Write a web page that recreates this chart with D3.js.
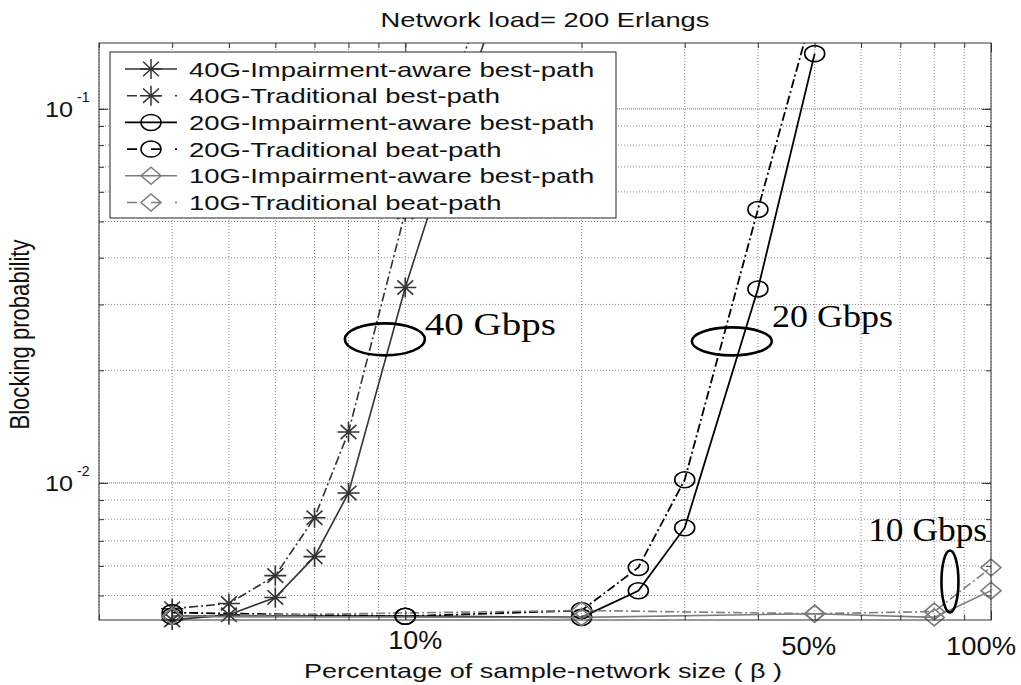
<!DOCTYPE html>
<html>
<head>
<meta charset="utf-8">
<script src="https://cdn.jsdelivr.net/npm/d3@7"></script>
<style>
  body { margin: 0; background: #fff; }
  svg { display: block; }
</style>
</head>
<body>
<svg width="1021" height="685"></svg>
<script>
// values (x in %, y = blocking probability)
const xPct40 = [4, 5, 6, 7, 8, 10, 20]
const g40Aware = [0.0043, 0.00444, 0.00494, 0.00635, 0.0094, 0.0333, 0.98]
const g40Trad = [0.00461, 0.00476, 0.00565, 0.00807, 0.01368, 0.053, 0.98]

const xPct20 = [4, 10, 20, 25, 30, 40, 50]
const g20Aware = [0.0044, 0.0044, 0.00437, 0.00515, 0.00759, 0.033, 0.1405]
const g20Trad = [0.0045, 0.0044, 0.00456, 0.00594, 0.0102, 0.0538, 0.19]

const xPct10 = [4, 20, 50, 80, 100]
const g10Aware = [0.0044, 0.00437, 0.00447, 0.00437, 0.00515]
const g10Trad = [0.0044, 0.00456, 0.00447, 0.00453, 0.00594]

const legendNames = [
  '40G-Impairment-aware best-path',
  '40G-Traditional best-path',
  '20G-Impairment-aware best-path',
  '20G-Traditional beat-path',
  '10G-Impairment-aware best-path',
  '10G-Traditional beat-path'
]
const xTickValues = [10, 50, 100]
const xTickLabels = ['10%', '50%', '100%']
const yTickValues = [0.01, 0.1]
const yTickExps = ['-2', '-1']

// annotations: [x %, y prob] anchors
const annoEllipses = [[9.23, 0.0242], [36.1, 0.0239], [85.1, 0.00545]]
const annoTexts = ['40 Gbps', '20 Gbps', '10 Gbps']
const annoTextPos = [[10.8, 0.0248], [42.3, 0.0261], [61.7, 0.0070]]

const svg = d3.select('svg')
const width = +svg.attr('width')
const height = +svg.attr('height')
const margin = {top: 43, right: 30, bottom: 65, left: 99}
const innerWidth = width - margin.left - margin.right
const innerHeight = height - margin.top - margin.bottom
const SANS = 'Liberation Sans, Arial, Helvetica, sans-serif'
const SERIF = 'Liberation Serif, Times New Roman, serif'

const x = d3.scaleLog().domain([3, 100]).range([0, innerWidth])
const y = d3.scaleLog().domain([0.0043, 0.15]).range([innerHeight, 0])

const g = svg.append('g')
  .attr('transform', `translate(${margin.left}, ${margin.top})`)

svg.append('defs').append('clipPath').attr('id', 'plotClip')
  .append('rect').attr('width', innerWidth).attr('height', innerHeight)

// grid
const xt = x.ticks()
const yt = y.ticks()
g.append('g').selectAll('line').data(xt).join('line')
  .attr('x1', d => x(d)).attr('x2', d => x(d))
  .attr('y1', 0).attr('y2', innerHeight)
  .attr('stroke', '#8a8a8a').attr('stroke-width', 1)
  .attr('stroke-dasharray', '1,2')
g.append('g').selectAll('line').data(yt).join('line')
  .attr('x1', 0).attr('x2', innerWidth)
  .attr('y1', d => y(d)).attr('y2', d => y(d))
  .attr('stroke', d => yTickValues.includes(d) ? '#777' : '#8a8a8a')
  .attr('stroke-width', 1)
  .attr('stroke-dasharray', d => yTickValues.includes(d) ? '1,1' : '1,2')

// series
const DASHDOT = '9,3,2,3'
const series = [
  {xs: xPct40, ys: g40Aware, color: '#333', dash: null, marker: 'star'},
  {xs: xPct40, ys: g40Trad, color: '#333', dash: DASHDOT, marker: 'star'},
  {xs: xPct20, ys: g20Aware, color: '#000', dash: null, marker: 'circle'},
  {xs: xPct20, ys: g20Trad, color: '#000', dash: DASHDOT, marker: 'circle'},
  {xs: xPct10, ys: g10Aware, color: '#7c7c7c', dash: null, marker: 'diamond'},
  {xs: xPct10, ys: g10Trad, color: '#7c7c7c', dash: DASHDOT, marker: 'diamond'}
]

function markerPath(type) {
  if (type === 'star') {
    const rx = 11, ry = 10, dx = rx * 0.72, dy = ry * 0.72
    return `M${-rx},0H${rx}M0,${-ry}V${ry}M${-dx},${-dy}L${dx},${dy}M${-dx},${dy}L${dx},${-dy}`
  }
  if (type === 'diamond') {
    const rx = 10, ry = 8.5
    return `M0,${-ry}L${rx},0L0,${ry}L${-rx},0Z`
  }
  const rx = 10, ry = 8
  return `M${-rx},0A${rx},${ry} 0 1,0 ${rx},0A${rx},${ry} 0 1,0 ${-rx},0Z`
}

const line = d3.line().x(d => x(d[0])).y(d => y(d[1]))
const linesG = g.append('g').attr('clip-path', 'url(#plotClip)')
const marksG = g.append('g')
series.forEach(s => {
  const pts = d3.zip(s.xs, s.ys)
  linesG.append('path').datum(pts)
    .attr('d', line)
    .attr('fill', 'none')
    .attr('stroke', s.color)
    .attr('stroke-width', s.color === '#000' ? 1.8 : 1.6)
    .attr('stroke-dasharray', s.dash)
  marksG.selectAll(null)
    .data(pts.filter(p => p[1] <= y.domain()[1] && p[1] >= y.domain()[0] * 0.98))
    .join('path')
    .attr('transform', d => `translate(${x(d[0])},${y(d[1])})`)
    .attr('d', markerPath(s.marker))
    .attr('fill', 'none')
    .attr('stroke', s.color)
    .attr('stroke-width', 1.6)
})

// frame and ticks (MATLAB-like inward ticks)
g.append('rect').attr('width', innerWidth).attr('height', innerHeight)
  .attr('fill', 'none').attr('stroke', '#333').attr('stroke-width', 1)

function tickAxis(axis, transform) {
  const a = g.append('g').attr('transform', transform).call(axis)
  a.select('.domain').remove()
  a.selectAll('line').attr('stroke', '#333')
  a.selectAll('text').remove()
}
tickAxis(d3.axisBottom(x).tickValues(xt).tickSize(-5), `translate(0,${innerHeight})`)
tickAxis(d3.axisTop(x).tickValues(xt).tickSize(-5), 'translate(0,0)')
tickAxis(d3.axisBottom(x).tickValues([10, 100]).tickSize(-9), `translate(0,${innerHeight})`)
tickAxis(d3.axisTop(x).tickValues([10, 100]).tickSize(-9), 'translate(0,0)')
tickAxis(d3.axisLeft(y).tickValues(yt).tickSize(-5), 'translate(0,0)')
tickAxis(d3.axisRight(y).tickValues(yt).tickSize(-5), `translate(${innerWidth},0)`)
tickAxis(d3.axisLeft(y).tickValues(yTickValues).tickSize(-9), 'translate(0,0)')
tickAxis(d3.axisRight(y).tickValues(yTickValues).tickSize(-9), `translate(${innerWidth},0)`)

// tick labels
const xNudge = [10, -6, -10]
const xLabelW = [54, 55, 70]
const xLabelDy = [29, 35, 35]
xTickValues.forEach((v, i) => {
  g.append('text')
    .attr('x', x(v) + xNudge[i]).attr('y', innerHeight + xLabelDy[i])
    .attr('text-anchor', 'middle')
    .attr('font-family', SANS).attr('font-size', 25)
    .attr('textLength', xLabelW[i]).attr('lengthAdjust', 'spacingAndGlyphs')
    .attr('fill', '#111')
    .text(xTickLabels[i])
})
yTickValues.forEach((v, i) => {
  g.append('text')
    .attr('x', -26).attr('y', y(v) + 8)
    .attr('text-anchor', 'end')
    .attr('font-family', SANS).attr('font-size', 22)
    .attr('textLength', 28).attr('lengthAdjust', 'spacingAndGlyphs')
    .attr('fill', '#111')
    .text('10')
  g.append('text')
    .attr('x', -22).attr('y', y(v) - 7)
    .attr('font-family', SANS).attr('font-size', 14)
    .attr('fill', '#111')
    .text(yTickExps[i])
})

// title and axis titles
svg.append('text')
  .attr('x', margin.left + innerWidth / 2).attr('y', 27)
  .attr('text-anchor', 'middle')
  .attr('font-family', SANS).attr('font-size', 21)
  .attr('textLength', 329).attr('lengthAdjust', 'spacingAndGlyphs')
  .attr('fill', '#111')
  .text('Network load= 200 Erlangs')

svg.append('text')
  .attr('x', margin.left + innerWidth / 2 - 2).attr('y', 678)
  .attr('text-anchor', 'middle')
  .attr('font-family', SANS).attr('font-size', 21)
  .attr('textLength', 478).attr('lengthAdjust', 'spacingAndGlyphs')
  .attr('fill', '#111')
  .text('Percentage of sample-network size ( β )')

// rotated label: bigger font squeezed along its length (picture is stretched sideways)
svg.append('text')
  .attr('transform', `translate(29, ${margin.top + innerHeight / 2 + 3}) rotate(-90)`)
  .attr('text-anchor', 'middle')
  .attr('font-family', SANS).attr('font-size', 27)
  .attr('textLength', 190).attr('lengthAdjust', 'spacingAndGlyphs')
  .attr('fill', '#111')
  .text('Blocking probability')

// legend
const legX = 11, legY = 9, legW = 506, legH = 166
const leg = g.append('g').attr('transform', `translate(${legX},${legY})`)
leg.append('rect').attr('width', legW).attr('height', legH)
  .attr('fill', '#fff').attr('stroke', '#222').attr('stroke-width', 1)
series.forEach((s, i) => {
  const cy = 17 + i * 26.7
  leg.append('line')
    .attr('x1', 15).attr('x2', 67).attr('y1', cy).attr('y2', cy)
    .attr('stroke', s.color).attr('stroke-width', 1.6)
    .attr('stroke-dasharray', s.dash ? '10,14' : null)
    .attr('stroke-dashoffset', s.dash ? -2 : null)
  leg.append('path')
    .attr('transform', `translate(41,${cy})`)
    .attr('d', markerPath(s.marker))
    .attr('fill', 'none').attr('stroke', s.color).attr('stroke-width', 1.5)
  const t = leg.append('text')
    .attr('x', 79).attr('y', cy + 7.5)
    .attr('font-family', SANS).attr('font-size', 21)
    .attr('fill', '#111')
    .text(legendNames[i])
  const natural = t.node().getComputedTextLength()
  t.attr('textLength', natural * 1.31).attr('lengthAdjust', 'spacingAndGlyphs')
})

// annotations
const ellR = [[40, 16], [40, 14], [8.5, 31]]
annoEllipses.forEach((p, i) => {
  g.append('ellipse')
    .attr('cx', x(p[0])).attr('cy', y(p[1]))
    .attr('rx', ellR[i][0]).attr('ry', ellR[i][1])
    .attr('fill', 'none').attr('stroke', '#000').attr('stroke-width', 2.6)
})
const annoW = [131, 121, 119]
const annoSize = [32, 32, 34]
annoTextPos.forEach((p, i) => {
  g.append('text')
    .attr('x', x(p[0])).attr('y', y(p[1]))
    .attr('font-family', SERIF).attr('font-size', annoSize[i])
    .attr('textLength', annoW[i]).attr('lengthAdjust', 'spacingAndGlyphs')
    .attr('fill', '#000')
    .text(annoTexts[i])
})
</script>
</body>
</html>
